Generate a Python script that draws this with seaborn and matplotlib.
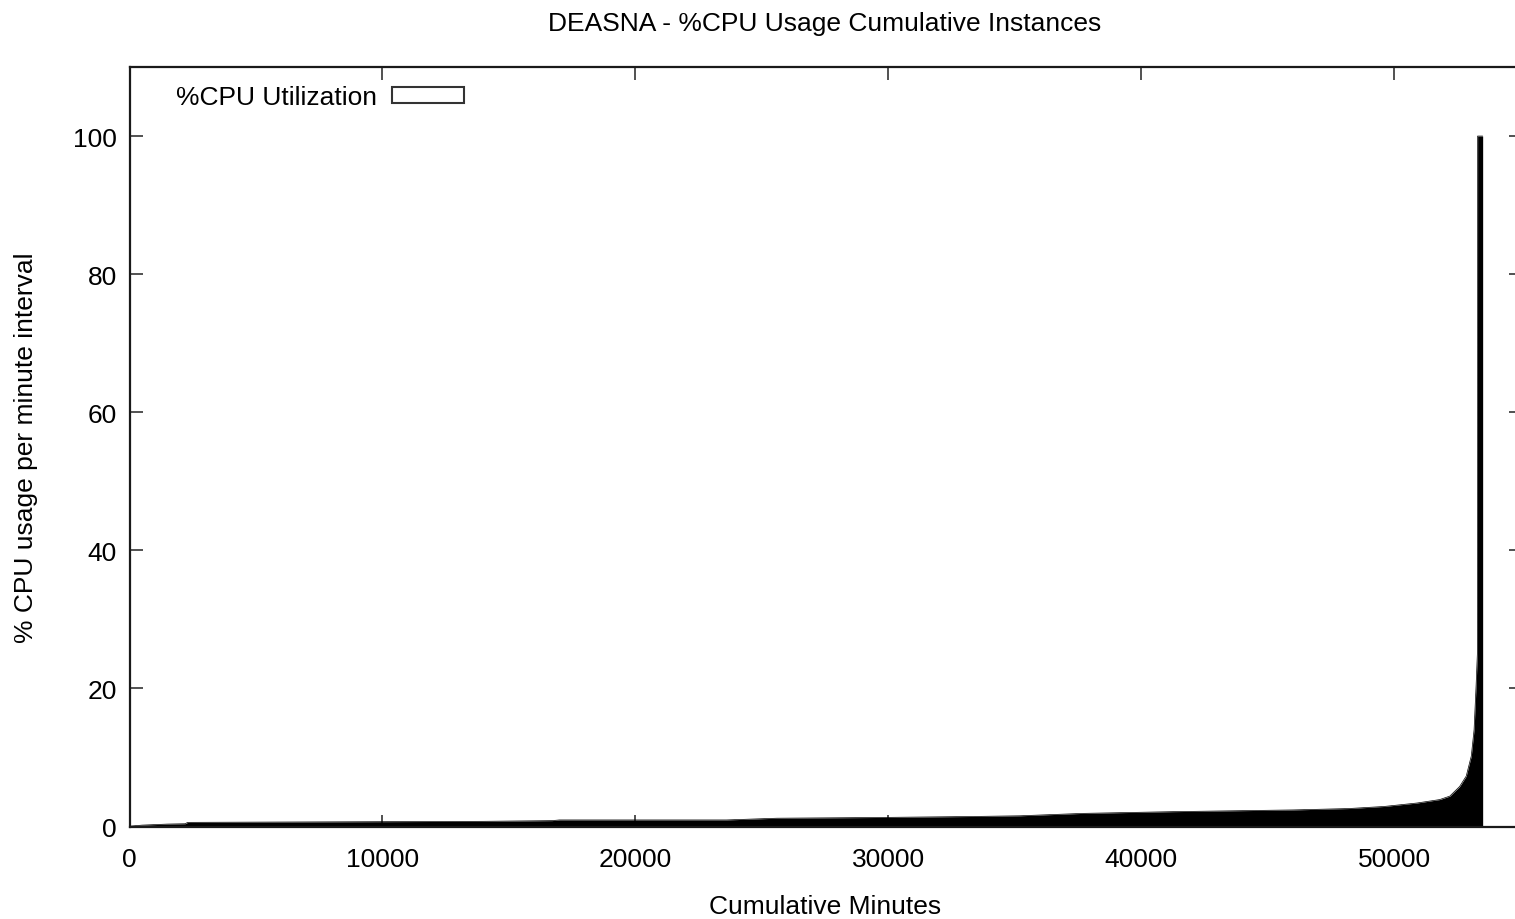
import numpy as np
import pandas as pd
import matplotlib
matplotlib.use("Agg")
import matplotlib.pyplot as plt
import seaborn as sns
from matplotlib.patches import Patch

# Data (cumulative minutes, %CPU sorted ascending)
cum_minutes = [0, 500, 1500, 2200, 2300, 14000, 16700, 17000, 23600, 25600, 29400,
               33300, 35200, 37700, 41250, 46000, 48200, 49600, 50900, 51800,
               52200, 52590, 52850, 53050, 53160, 53240, 53290, 53300, 53500]
cpu_pct = [0.05, 0.2, 0.35, 0.4, 0.6, 0.75, 0.85, 0.95, 0.95, 1.2, 1.3,
           1.45, 1.55, 1.9, 2.15, 2.4, 2.6, 2.9, 3.4, 3.9,
           4.4, 5.8, 7.3, 10.2, 14.0, 20.4, 25.0, 100.0, 100.0]

title = "DEASNA - %CPU Usage Cumulative Instances"
xlabel = "Cumulative Minutes"
ylabel = "% CPU usage per minute interval"
legend_label = "%CPU Utilization"
xticks = [0, 10000, 20000, 30000, 40000, 50000]
yticks = [0, 20, 40, 60, 80, 100]

df = pd.DataFrame({"minutes": cum_minutes, "cpu": cpu_pct})

sns.set_theme(style="ticks")
plt.rcParams["font.family"] = ["Liberation Sans", "DejaVu Sans"]
plt.rcParams["text.color"] = "black"

FS = 19

fig = plt.figure(figsize=(15.15, 9.2), dpi=100)
ax = fig.add_axes([129.5 / 1515, 92.5 / 920, (1520.6 - 129.5) / 1515, (827.5 - 68) / 920])

sns.lineplot(data=df, x="minutes", y="cpu", ax=ax, color="black", linewidth=0.5,
             legend=False)
ax.fill_between(df["minutes"], df["cpu"], 0, color="black", linewidth=0)

ax.set_xlim(0, 55000)
ax.set_ylim(0, 110)
ax.set_xticks(xticks)
ax.set_yticks(yticks)
ax.set_xticklabels([str(t) for t in xticks])
ax.set_yticklabels([str(t) for t in yticks])

for s in ax.spines.values():
    s.set_visible(True)
    s.set_linewidth(1.6)
    s.set_color("#1a1a1a")

ax.tick_params(axis="both", which="major", direction="in", length=9, width=1.2,
               color="#333333", labelsize=FS, labelcolor="black",
               top=True, right=True, pad=9)
ax.tick_params(axis="x", pad=15)

ax.set_title(title, fontsize=FS, pad=27, color="black")
ax.set_xlabel(xlabel, fontsize=FS, labelpad=16, color="black")
ax.set_ylabel(ylabel, fontsize=FS, labelpad=25, color="black")

handle = Patch(facecolor="white", edgecolor="#333333", linewidth=1.5)
leg = ax.legend([handle], [legend_label], loc="upper left",
                bbox_to_anchor=(0.0334, 0.976), frameon=False, markerfirst=False,
                fontsize=FS, borderpad=0, borderaxespad=0, handlelength=2.73,
                handleheight=0.57, handletextpad=0.57, labelcolor="black")

fig.savefig("out.png", dpi=100)
